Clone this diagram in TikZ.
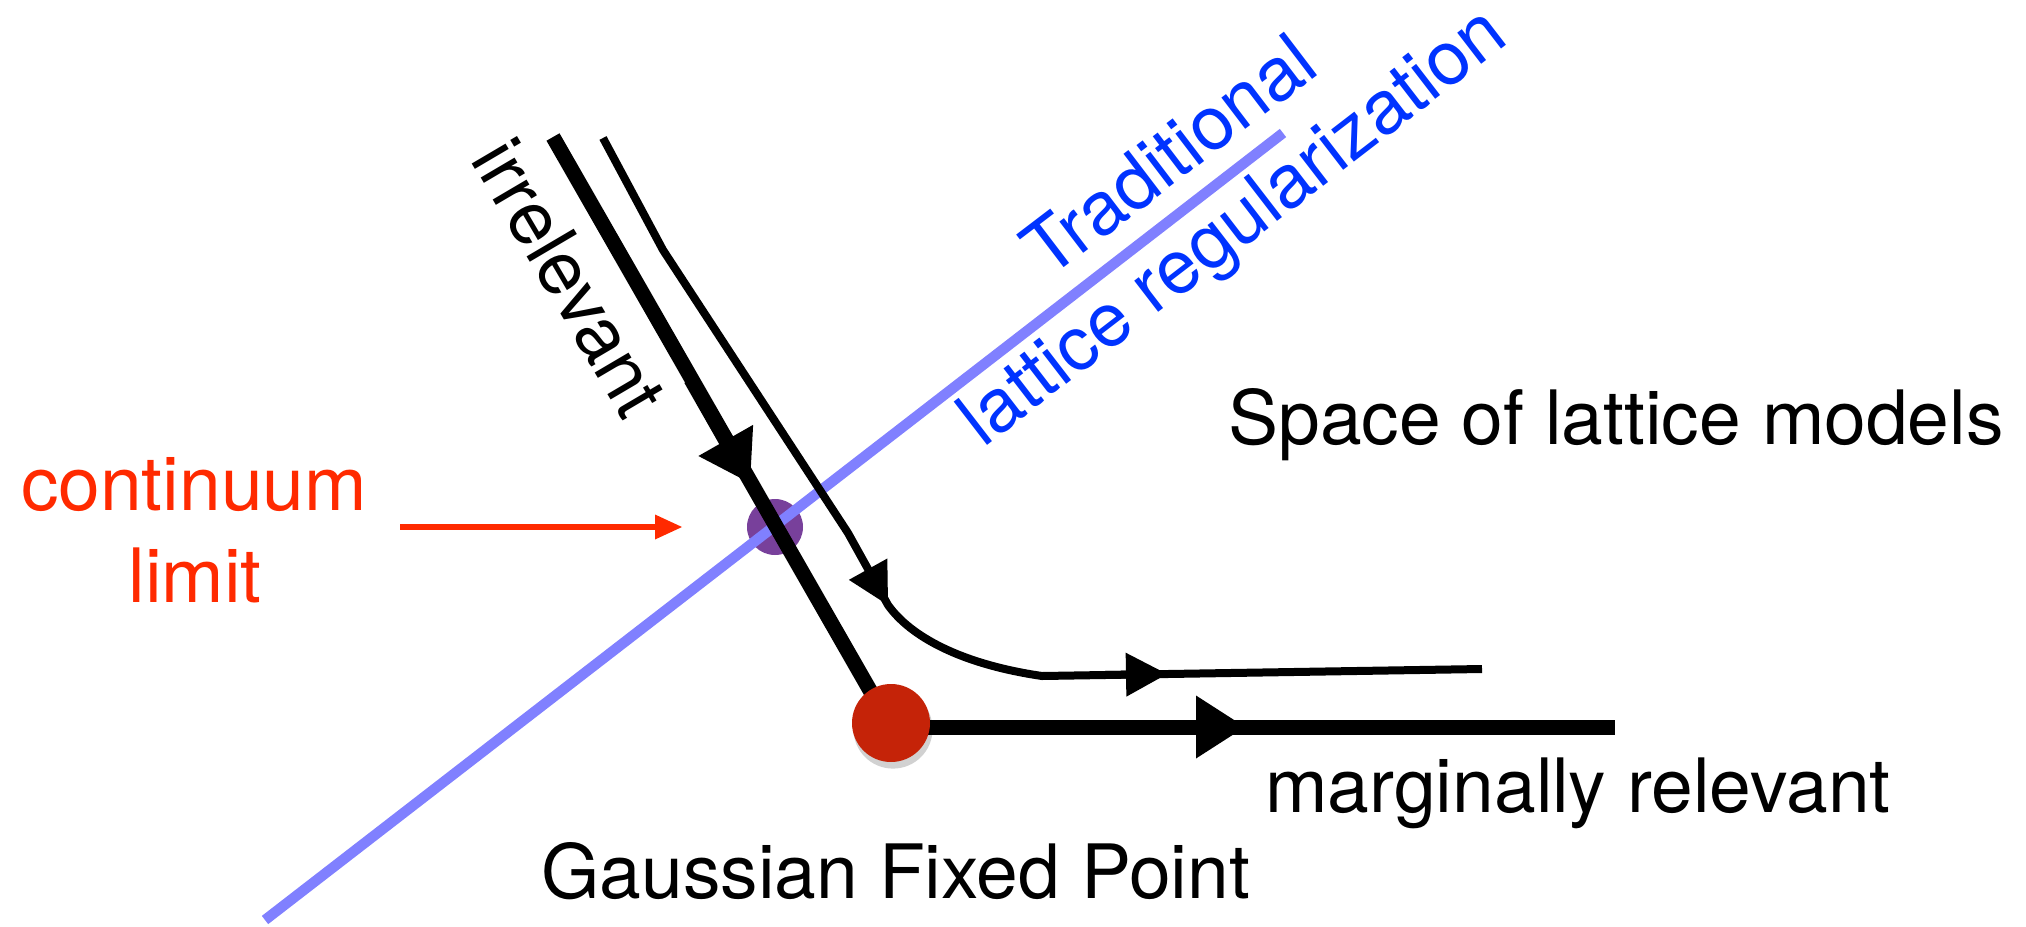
\documentclass[tikz,border=0pt]{standalone}
\usepackage{fontspec}
\setmainfont{TeX Gyre Heros}
\usetikzlibrary{arrows.meta,calc}
\definecolor{lblue}{RGB}{128,128,255}
\definecolor{tblue}{RGB}{0,51,255}
\definecolor{tred}{RGB}{255,42,0}
\definecolor{purpdot}{RGB}{120,64,155}
\definecolor{reddot}{RGB}{197,35,8}
\begin{document}
\begin{tikzpicture}[x=0.5pt,y=-0.5pt,
  lbl/.style={inner sep=0pt, font=\fontsize{37.5}{45}\selectfont},
  thickline/.style={line width=7.5pt, black},
  thinline/.style={line width=4pt, black},
  bigtip/.style={-{Triangle[length=24.5pt,width=31.5pt,line width=0pt]}},
  smalltip/.style={-{Triangle[length=20.5pt,width=22pt,line width=0pt]}},
  redtip/.style={-{Triangle[length=13.5pt,width=12.5pt,line width=0pt]}}]
\useasboundingbox (0,0) rectangle (2026,927);
% coordinates
\coordinate (irrtop) at (553,137);
\coordinate (irrtip) at (750,483);
\coordinate (hstart) at (891,727);
\coordinate (htip) at (1245,727);
\coordinate (hend) at (1615,727);
\coordinate (t0) at (603,138);
\coordinate (t1) at (663,250);
\coordinate (t2) at (848,533);
\coordinate (t3) at (888,605);
\coordinate (t4) at (1042,676);
\coordinate (ttip) at (1167,674);
\coordinate (t5) at (1482,669);
\coordinate (b0) at (265,920);
\coordinate (b1) at (1283,133);
\coordinate (rstart) at (400,527);
\coordinate (rend) at (682,527);
% purple dot (below blue line)
\node[circle, fill=purpdot, minimum size=28pt, inner sep=0pt] (cl) at (775,527) {};
% blue line
\draw[lblue, line width=5.2pt] (b0) -- (b1);
% thin flow line
\draw[thinline, line join=miter] (t0) -- (t1) -- (t2) -- (t3)
  .. controls (910,636) and (960,664) .. (t4) -- (t5);
\draw[thinline, smalltip] ($(t2)!0.5!(t3)$) -- (t3);
\draw[thinline, smalltip] ($(t4)!0.5!(ttip)$) -- (ttip);
% thick lines
\draw[thickline] (irrtop) -- (hstart);
\draw[thickline, bigtip] ($(irrtop)!0.7!(irrtip)$) -- (irrtip);
\draw[thickline] (hstart) -- (hend);
\draw[thickline, bigtip] ($(hstart)!0.6!(htip)$) -- (htip);
% red dot with shadow
\fill[black, opacity=0.18] (893,729) circle[radius=19.8pt];
\node[circle, fill=reddot, minimum size=39pt, inner sep=0pt] (gfp) at (891,723) {};
% continuum limit arrow
\draw[tred, line width=3pt, redtip] (rstart) -- (rend);
% labels
\node[lbl, tred, anchor=base] (cont) at (194,510) {continuum};
\node[lbl, tred, anchor=base] (lim) at (195,602) {limit};
\node[lbl, anchor=base west] (space) at (1228,444) {Space of lattice models};
\node[lbl, anchor=base west] (marg) at (1265,812) {marginally relevant};
\node[lbl, anchor=base west] (gauss) at (541,898) {Gaussian Fixed Point};
\node[lbl, anchor=base, rotate=-59.5] (irr) at (547,291) {irrelevant};
\node[lbl, tblue, anchor=base, rotate=37.3] (trad) at (1185,176) {Traditional};
\node[lbl, tblue, anchor=base, rotate=37.6] (latt) at (1247,245) {lattice regularization};
\end{tikzpicture}
\end{document}
